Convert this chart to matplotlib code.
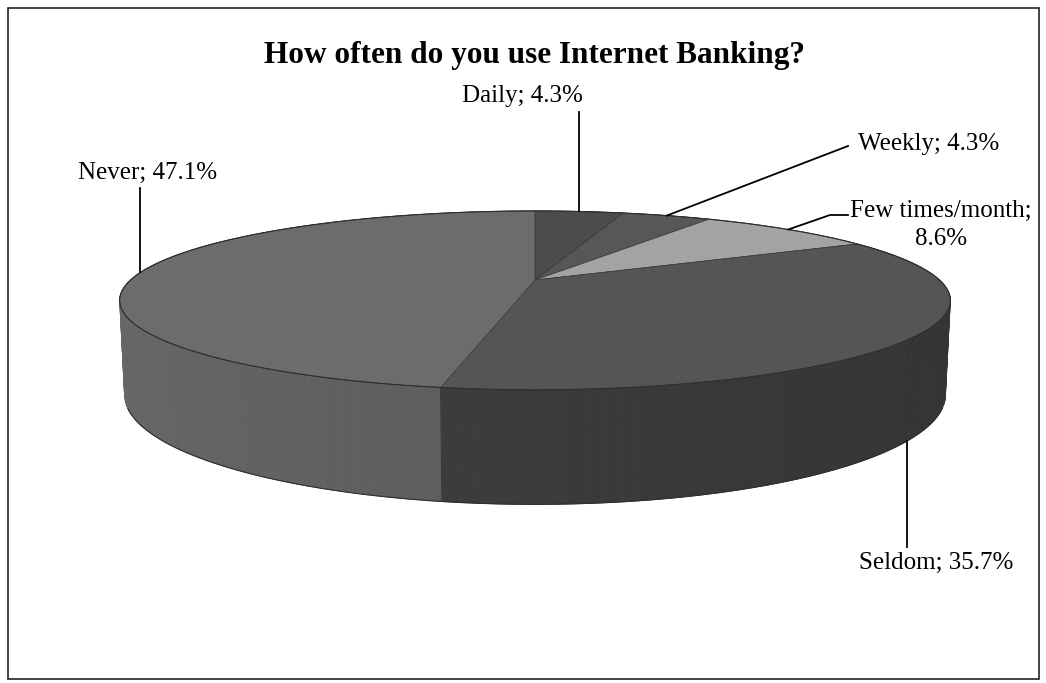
import numpy as np
import matplotlib.pyplot as plt
from matplotlib.colors import to_rgb
from matplotlib.patches import Polygon, Rectangle

# survey answers, start at 12 o'clock and go clockwise (Excel order)
categories = ['Daily', 'Weekly', 'Few times/month', 'Seldom', 'Never']
shares = [4.3, 4.3, 8.6, 35.7, 47.1]
top_colors = ['#4c4c4c', '#575757', '#a3a3a3', '#555555', '#6c6c6c']
side_colors = ['#3e3e3e', '#474747', '#8a8a8a', '#3b3b3b', '#5c5c5c']

# label text anchors in pixel units (figure is drawn in pixel space)
label_text = ['Daily; 4.3%', 'Weekly; 4.3%', 'Few times/month;\n8.6%',
              'Seldom; 35.7%', 'Never; 47.1%']
label_pos = [(522, 96), (929, 144), (941, 225), (936, 563), (148, 173)]
leader_end = [(None, 112), (848, 146), (848, 215), (None, 547), (None, 188)]

# simple perspective camera for the 3d pie
cx, cy = 535, 280
f, D = 1735.0, 4.29
phi = np.radians(12.1)
thick = 0.23
sphi, cphi = np.sin(phi), np.cos(phi)


def project(X, Y, Z):
    w = Y * cphi - Z * sphi
    v = Y * sphi + Z * cphi
    s = f / (D + w)
    return cx + X * s, cy - v * s


def arc(a0, a1, z, n=120):
    t = np.radians(np.linspace(a0, a1, n))
    return project(np.cos(t), np.sin(t), z)


fig = plt.figure(figsize=(10.46, 6.83), dpi=100)
ax = fig.add_axes([0, 0, 1, 1])
ax.set_xlim(0, 1046)
ax.set_ylim(683, 0)
ax.axis('off')

ax.add_patch(Rectangle((8, 8), 1031, 671, fill=False, ec='#222222', lw=1.2))

fracs = np.array(shares) / sum(shares)
starts = 90 - 360 * np.concatenate([[0], np.cumsum(fracs)[:-1]])
ends = starts - 360 * fracs

# outer walls first, split in short pieces and shaded by facing direction
for a0, a1, col in zip(starts, ends, side_colors):
    edges = np.linspace(a0, a1, max(int(abs(a1 - a0) / 2), 2) + 1)
    base = np.array(to_rgb(col))
    for e0, e1 in zip(edges[:-1], edges[1:]):
        tx, ty = arc(e0, e1, 0, 4)
        bx, by = arc(e1, e0, -thick, 4)
        mid = np.radians((e0 + e1) / 2)
        c = np.clip(base * (1.0 - 0.12 * np.cos(mid)), 0, 1)
        ax.add_patch(Polygon(np.column_stack([np.r_[tx, bx], np.r_[ty, by]]),
                             closed=True, fc=c, ec=c, lw=0.6))

# boundary lines on the front wall
for a in starts:
    t = np.radians(a)
    if np.sin(t) < 0.05:
        x0, y0 = project(np.cos(t), np.sin(t), 0)
        x1, y1 = project(np.cos(t), np.sin(t), -thick)
        ax.plot([x0, x1], [y0, y1], color='#333333', lw=0.6)

# top faces
for a0, a1, col in zip(starts, ends, top_colors):
    ax_, ay_ = arc(a0, a1, 0)
    ax.add_patch(Polygon(np.column_stack([np.r_[cx, ax_], np.r_[cy, ay_]]),
                         closed=True, fc=col, ec='#3a3a3a', lw=0.5))

# silhouette outline
ox, oy = arc(0, 360, 0, 360)
ax.plot(ox, oy, color='#2e2e2e', lw=0.8)
bx, by = arc(200, 340, -thick, 200)
ax.plot(bx, by, color='#2e2e2e', lw=0.8)

# data labels with leader lines
for i, (a0, a1) in enumerate(zip(starts, ends)):
    mid = np.radians((a0 + a1) / 2)
    z = -thick if categories[i] == 'Seldom' else 0
    px, py = project(np.cos(mid), np.sin(mid), z)
    ex, ey = leader_end[i]
    if ex is None:
        ax.plot([px, px], [py, ey], color='black', lw=1.3)
    elif categories[i] == 'Few times/month':
        ax.plot([px, ex - 18, ex], [py, ey, ey], color='black', lw=1.3)
    else:
        ax.plot([px, ex], [py, ey], color='black', lw=1.3)
    ax.text(*label_pos[i], label_text[i], ha='center', va='center',
            family='Liberation Serif', fontsize=18, linespacing=1.3)

ax.text(535, 55, 'How often do you use Internet Banking?', ha='center',
        va='center', family='Liberation Serif', fontweight='bold', fontsize=22.5)

fig.savefig('out.png', dpi=100)
